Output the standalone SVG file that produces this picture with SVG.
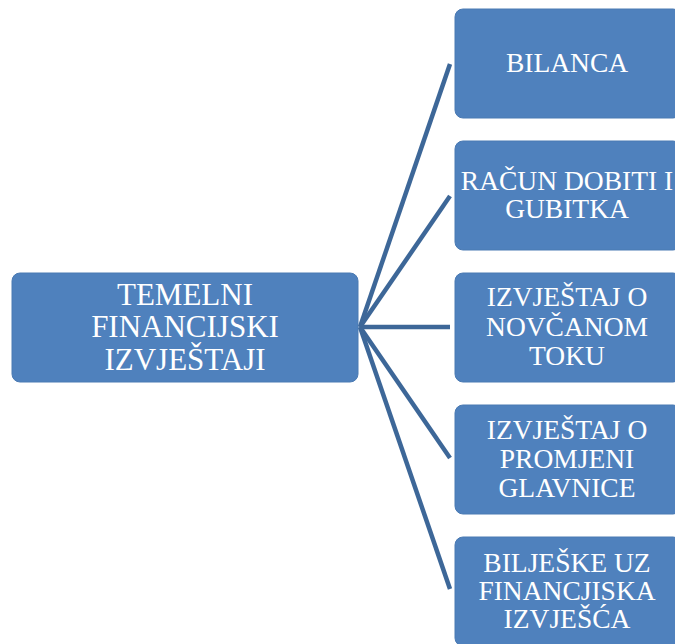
<svg xmlns="http://www.w3.org/2000/svg" width="675" height="644" viewBox="0 0 675 644">
<style>
.box{fill:#4f81bd;stroke:#4a7ab3;stroke-width:1}
.conn{stroke:#3d6798;stroke-width:4.5;fill:none}
text{font-family:'Liberation Serif','Times New Roman',serif;fill:#ffffff;text-anchor:middle}
.big{font-size:31px}
.sm{font-size:27.5px}
</style>
<rect width="675" height="644" fill="#ffffff"/>
<g id="connectors">
<line class="conn" x1="360" y1="327" x2="450" y2="64"/>
<line class="conn" x1="360" y1="327" x2="450" y2="196"/>
<line class="conn" x1="360" y1="327" x2="450" y2="327"/>
<line class="conn" x1="360" y1="327" x2="450" y2="458"/>
<line class="conn" x1="360" y1="327" x2="450" y2="589"/>
</g>
<g id="root" font-family="Liberation Serif, serif">
<rect class="box" x="12" y="273" width="346" height="109" rx="8"/>
<text class="big" x="185" y="305">TEMELNI</text>
<text class="big" x="185" y="337">FINANCIJSKI</text>
<text class="big" x="185" y="370">IZVJEŠTAJI</text>
</g>
<g id="n1">
<rect class="box" x="455" y="9" width="226" height="109" rx="8"/>
<text class="sm" x="567" y="72">BILANCA</text>
</g>
<g id="n2">
<rect class="box" x="455" y="141" width="226" height="109" rx="8"/>
<text class="sm" x="567" y="190">RAČUN DOBITI I</text>
<text class="sm" x="567" y="218">GUBITKA</text>
</g>
<g id="n3">
<rect class="box" x="455" y="273" width="226" height="109" rx="8"/>
<text class="sm" x="567" y="306">IZVJEŠTAJ O</text>
<text class="sm" x="567" y="336">NOVČANOM</text>
<text class="sm" x="567" y="365">TOKU</text>
</g>
<g id="n4">
<rect class="box" x="455" y="405" width="226" height="109" rx="8"/>
<text class="sm" x="567" y="439">IZVJEŠTAJ O</text>
<text class="sm" x="567" y="468">PROMJENI</text>
<text class="sm" x="567" y="497">GLAVNICE</text>
</g>
<g id="n5">
<rect class="box" x="455" y="537" width="226" height="109" rx="8"/>
<text class="sm" x="567" y="572">BILJEŠKE UZ</text>
<text class="sm" x="567" y="600">FINANCJISKA</text>
<text class="sm" x="567" y="628">IZVJEŠĆA</text>
</g>
</svg>
